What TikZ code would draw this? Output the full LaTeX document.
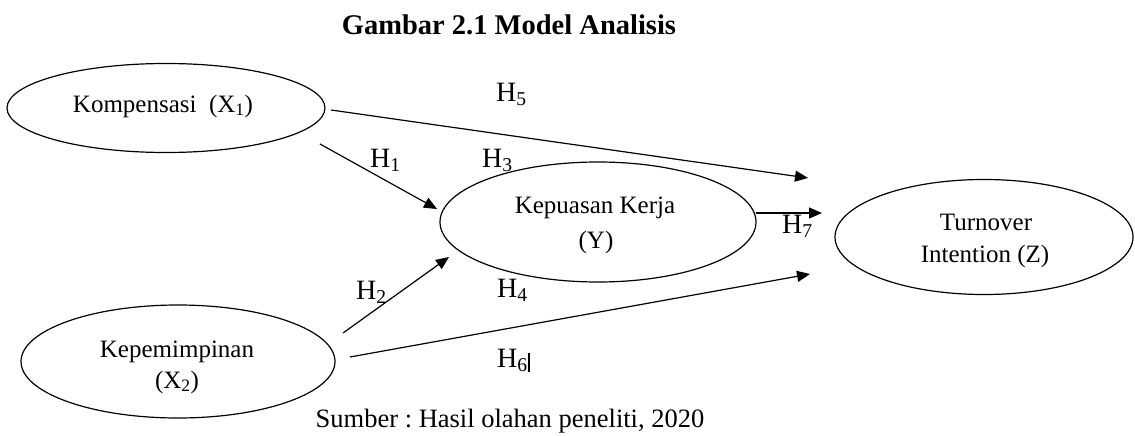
\documentclass[tikz,border=0pt]{standalone}
\usepackage{fontspec}
\setmainfont{Liberation Serif}
\frenchspacing
\usetikzlibrary{shapes.geometric,arrows.meta}
\tikzset{
  latent/.style={ellipse,draw,line width=1.2pt,inner sep=0pt},
  path/.style={line width=1.2pt,-{Triangle[length=13pt,width=11pt]}},
  etext/.style={anchor=base,inner sep=0pt,font=\fontsize{25}{30}\selectfont},
  hlab/.style={anchor=base west,inner sep=0pt,font=\fontsize{28}{32}\selectfont},
}
\begin{document}
\begin{tikzpicture}[x=1pt,y=-1pt]
\useasboundingbox (0,0) rectangle (1135,436);
% title
\node[anchor=base,inner sep=0pt,font=\bfseries\fontsize{28.5}{32}\selectfont] (title) at (509,35) {Gambar 2.1 Model Analisis};
% ellipses
\node[latent,minimum width=318pt,minimum height=89pt] (k) at (166,108) {};
\node[latent,minimum width=316pt,minimum height=120pt] (y) at (598,222) {};
\node[latent,minimum width=298pt,minimum height=115pt] (z) at (984,237) {};
\node[latent,minimum width=314pt,minimum height=113pt] (l) at (178,361.5) {};
% texts
\node[etext] (kt) at (163,112) {Kompensasi\ \ (X\textsubscript{1})};
\node[etext] (yt1) at (595,213) {Kepuasan Kerja};
\node[etext] (yt2) at (596,248) {(Y)};
\node[etext] (zt1) at (986,230) {Turnover};
\node[etext] (zt2) at (985,262) {Intention (Z)};
\node[etext] (lt1) at (177,357) {Kepemimpinan};
\node[etext] (lt2) at (177,388) {(X\textsubscript{2})};
% connector ends
\coordinate (h1s) at (320,144);
\coordinate (h1e) at (437,209);
\coordinate (h2s) at (343,333);
\coordinate (h2e) at (449,257);
\coordinate (h5s) at (331,110);
\coordinate (h5e) at (808,178);
\coordinate (h6s) at (350,357);
\coordinate (h6e) at (810,274);
\coordinate (h7s) at (756,213);
\coordinate (h7e) at (822,213);
\draw[path] (h1s) -- (h1e);
\draw[path] (h2s) -- (h2e);
\draw[path] (h5s) -- (h5e);
\draw[path] (h6s) -- (h6e);
\draw[path] (h7s) -- (h7e);
% labels
\node[hlab] (lh1) at (370,167) {H\textsubscript{1}};
\node[hlab] (lh2) at (356,299) {H\textsubscript{2}};
\node[hlab] (lh3) at (482,167) {H\textsubscript{3}};
\node[hlab] (lh4) at (497,297) {H\textsubscript{4}};
\node[hlab] (lh5) at (496,101) {H\textsubscript{5}};
\node[hlab] (lh6) at (497,367) {H\textsubscript{6}};
\node[hlab] (lh7) at (782,233) {H\textsubscript{7}};
\draw[line width=2pt] (lh6.east) ++(1.5,0) coordinate (bar) (bar |- 0,353) -- (bar |- 0,372);
% source
\node[anchor=base,inner sep=0pt,font=\fontsize{26.5}{30}\selectfont] (src) at (510,427) {Sumber : Hasil olahan peneliti, 2020};
\end{tikzpicture}
\end{document}
